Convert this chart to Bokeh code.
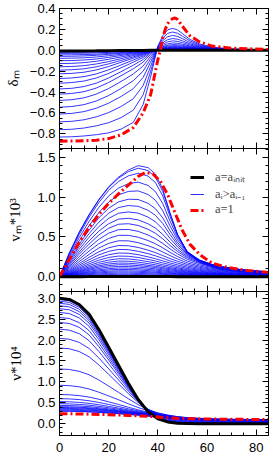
from bokeh.plotting import figure
from bokeh.layouts import column
from bokeh.models import (Range1d, LinearAxis, FixedTicker, CustomJSTickFormatter,
                          Legend, LegendItem)
from bokeh.embed import file_html
from bokeh.resources import INLINE

# ---------------- data ----------------
# panel 1 : density contrast delta_m
r_delta = [0, 5, 10, 15, 20, 25, 30, 34, 37, 40, 42, 44, 46, 48, 50, 53, 57, 62, 70, 85]
delta_init = [-0.006, -0.006, -0.0056, -0.005, -0.0041, -0.003, -0.0019, -0.0011, -0.0002, 0.0002,
              0.0004, 0.0005, 0.0006, 0.0006, 0.0005, 0.0004, 0.0003, 0.0002, 0.0001, 0.0]
delta_steps = [
    [-0.019, -0.019, -0.018, -0.016, -0.013, -0.01, -0.006, -0.003, -0.001, 0.001, 0.001, 0.002, 0.002, 0.002, 0.002, 0.001, 0.001, 0.0, 0.0, 0.0],
    [-0.030, -0.029, -0.028, -0.025, -0.020, -0.015, -0.010, -0.005, -0.001, 0.001, 0.002, 0.003, 0.003, 0.003, 0.003, 0.002, 0.001, 0.001, 0.0, 0.0],
    [-0.044, -0.043, -0.041, -0.037, -0.030, -0.022, -0.014, -0.008, -0.002, 0.001, 0.003, 0.004, 0.004, 0.004, 0.004, 0.003, 0.002, 0.001, 0.0, 0.0],
    [-0.058, -0.057, -0.054, -0.048, -0.039, -0.029, -0.019, -0.010, -0.002, 0.002, 0.003, 0.005, 0.006, 0.006, 0.005, 0.004, 0.003, 0.001, 0.001, 0.0],
    [-0.077, -0.075, -0.072, -0.064, -0.052, -0.039, -0.025, -0.014, -0.003, 0.002, 0.005, 0.007, 0.008, 0.008, 0.007, 0.005, 0.003, 0.002, 0.001, 0.0],
    [-0.100, -0.098, -0.093, -0.083, -0.068, -0.050, -0.032, -0.018, -0.004, 0.003, 0.006, 0.009, 0.010, 0.010, 0.009, 0.007, 0.005, 0.003, 0.001, 0.0],
    [-0.127, -0.125, -0.118, -0.105, -0.086, -0.064, -0.041, -0.023, -0.005, 0.004, 0.008, 0.011, 0.013, 0.013, 0.011, 0.009, 0.006, 0.003, 0.001, 0.0],
    [-0.158, -0.155, -0.147, -0.131, -0.108, -0.080, -0.051, -0.029, -0.007, 0.005, 0.010, 0.014, 0.016, 0.016, 0.014, 0.011, 0.007, 0.004, 0.002, 0.0],
    [-0.190, -0.186, -0.177, -0.158, -0.130, -0.097, -0.063, -0.036, -0.009, 0.006, 0.012, 0.017, 0.020, 0.020, 0.018, 0.014, 0.009, 0.005, 0.002, 0.0],
    [-0.225, -0.221, -0.210, -0.188, -0.155, -0.115, -0.075, -0.044, -0.011, 0.007, 0.014, 0.020, 0.024, 0.023, 0.021, 0.016, 0.010, 0.006, 0.002, 0.001],
    [-0.270, -0.265, -0.252, -0.226, -0.187, -0.141, -0.093, -0.055, -0.015, 0.008, 0.018, 0.025, 0.029, 0.029, 0.026, 0.020, 0.013, 0.007, 0.003, 0.001],
    [-0.315, -0.309, -0.294, -0.265, -0.221, -0.168, -0.114, -0.068, -0.020, 0.010, 0.022, 0.031, 0.035, 0.035, 0.031, 0.024, 0.015, 0.008, 0.003, 0.001],
    [-0.370, -0.364, -0.347, -0.314, -0.265, -0.205, -0.143, -0.088, -0.028, 0.012, 0.028, 0.039, 0.044, 0.044, 0.038, 0.029, 0.018, 0.010, 0.004, 0.001],
    [-0.420, -0.413, -0.396, -0.361, -0.308, -0.244, -0.177, -0.113, -0.040, 0.014, 0.034, 0.048, 0.055, 0.053, 0.047, 0.034, 0.021, 0.011, 0.005, 0.001],
    [-0.480, -0.473, -0.455, -0.419, -0.366, -0.299, -0.227, -0.151, -0.059, 0.017, 0.045, 0.062, 0.070, 0.067, 0.058, 0.042, 0.026, 0.014, 0.006, 0.001],
    [-0.545, -0.538, -0.520, -0.485, -0.433, -0.366, -0.291, -0.200, -0.084, 0.021, 0.058, 0.081, 0.090, 0.085, 0.073, 0.051, 0.031, 0.016, 0.007, 0.002],
    [-0.610, -0.604, -0.587, -0.554, -0.506, -0.443, -0.367, -0.260, -0.116, 0.024, 0.073, 0.102, 0.112, 0.106, 0.090, 0.062, 0.037, 0.019, 0.008, 0.002],
    [-0.685, -0.680, -0.665, -0.637, -0.596, -0.539, -0.464, -0.338, -0.158, 0.029, 0.093, 0.130, 0.142, 0.133, 0.111, 0.075, 0.044, 0.022, 0.009, 0.003],
    [-0.760, -0.756, -0.744, -0.723, -0.693, -0.645, -0.573, -0.426, -0.207, 0.034, 0.116, 0.162, 0.175, 0.163, 0.135, 0.090, 0.052, 0.026, 0.011, 0.004],
    [-0.830, -0.828, -0.820, -0.808, -0.790, -0.755, -0.690, -0.520, -0.260, 0.040, 0.140, 0.195, 0.210, 0.195, 0.160, 0.105, 0.060, 0.030, 0.012, 0.004],
]
r_delta_final = [0, 5, 10, 15, 20, 25, 30, 34, 37, 38, 39, 40, 41, 42, 43, 44, 45, 46, 47, 48, 50, 53, 57, 62, 70, 85]
delta_final = [-0.87, -0.869, -0.866, -0.86, -0.845, -0.81, -0.74, -0.6, -0.43, -0.32, -0.2, -0.09, 0.0,
               0.12, 0.2, 0.255, 0.285, 0.303, 0.31, 0.295, 0.23, 0.14, 0.08, 0.04, 0.02, 0.008]

# panel 2 : velocity v_m * 10^3
r_vel = [0, 4, 8, 12, 16, 20, 24, 28, 32, 36, 39, 42, 45, 48, 52, 57, 64, 74, 85]
vel_init = [0, 0.001, 0.0015, 0.002, 0.003, 0.0034, 0.0038, 0.004, 0.0038, 0.0034, 0.003, 0.0026,
            0.0021, 0.0017, 0.0013, 0.001, 0.0007, 0.0005, 0.0003]
vel_steps = [
    [0, 0.003, 0.006, 0.009, 0.012, 0.014, 0.015, 0.015, 0.014, 0.013, 0.011, 0.01, 0.009, 0.008, 0.006, 0.005, 0.003, 0.002, 0.002],
    [0, 0.006, 0.013, 0.019, 0.024, 0.028, 0.03, 0.03, 0.028, 0.025, 0.023, 0.02, 0.017, 0.015, 0.012, 0.009, 0.007, 0.005, 0.003],
    [0, 0.009, 0.019, 0.028, 0.036, 0.042, 0.045, 0.045, 0.042, 0.038, 0.034, 0.03, 0.026, 0.023, 0.018, 0.014, 0.01, 0.007, 0.005],
    [0, 0.013, 0.025, 0.037, 0.048, 0.056, 0.06, 0.059, 0.056, 0.05, 0.046, 0.04, 0.035, 0.03, 0.024, 0.019, 0.013, 0.009, 0.006],
    [0, 0.016, 0.032, 0.047, 0.06, 0.07, 0.075, 0.074, 0.07, 0.063, 0.057, 0.05, 0.044, 0.038, 0.03, 0.023, 0.017, 0.011, 0.008],
    [0, 0.019, 0.039, 0.057, 0.074, 0.086, 0.092, 0.091, 0.086, 0.077, 0.07, 0.062, 0.053, 0.046, 0.037, 0.029, 0.02, 0.014, 0.009],
    [0, 0.023, 0.046, 0.068, 0.088, 0.102, 0.11, 0.109, 0.102, 0.092, 0.084, 0.074, 0.064, 0.055, 0.044, 0.034, 0.024, 0.017, 0.011],
    [0, 0.027, 0.055, 0.081, 0.104, 0.121, 0.13, 0.129, 0.121, 0.109, 0.099, 0.087, 0.075, 0.065, 0.052, 0.04, 0.029, 0.02, 0.013],
    [0, 0.032, 0.063, 0.094, 0.121, 0.14, 0.151, 0.149, 0.14, 0.127, 0.115, 0.101, 0.088, 0.076, 0.06, 0.047, 0.033, 0.023, 0.015],
    [0, 0.036, 0.072, 0.107, 0.138, 0.16, 0.172, 0.17, 0.16, 0.144, 0.131, 0.115, 0.1, 0.086, 0.069, 0.053, 0.038, 0.026, 0.017],
    [0, 0.041, 0.083, 0.122, 0.158, 0.183, 0.197, 0.195, 0.183, 0.165, 0.15, 0.132, 0.114, 0.099, 0.079, 0.061, 0.043, 0.03, 0.02],
    [0, 0.047, 0.095, 0.14, 0.181, 0.21, 0.226, 0.224, 0.21, 0.19, 0.172, 0.151, 0.131, 0.113, 0.09, 0.07, 0.05, 0.034, 0.023],
    [0, 0.055, 0.109, 0.161, 0.208, 0.242, 0.26, 0.257, 0.242, 0.218, 0.198, 0.174, 0.151, 0.13, 0.104, 0.081, 0.057, 0.039, 0.026],
    [0, 0.063, 0.125, 0.185, 0.238, 0.277, 0.298, 0.295, 0.277, 0.25, 0.226, 0.2, 0.173, 0.149, 0.119, 0.092, 0.066, 0.045, 0.03],
    [0, 0.072, 0.144, 0.213, 0.274, 0.319, 0.343, 0.34, 0.32, 0.29, 0.263, 0.231, 0.199, 0.171, 0.136, 0.105, 0.075, 0.051, 0.034],
    [0, 0.083, 0.165, 0.243, 0.313, 0.364, 0.392, 0.389, 0.368, 0.334, 0.303, 0.266, 0.228, 0.195, 0.154, 0.119, 0.084, 0.057, 0.038],
    [0, 0.096, 0.191, 0.28, 0.361, 0.419, 0.452, 0.451, 0.428, 0.39, 0.355, 0.311, 0.265, 0.223, 0.174, 0.133, 0.094, 0.064, 0.043],
    [0, 0.111, 0.22, 0.322, 0.414, 0.481, 0.52, 0.52, 0.496, 0.455, 0.414, 0.363, 0.306, 0.254, 0.196, 0.149, 0.104, 0.071, 0.047],
    [0, 0.127, 0.251, 0.367, 0.47, 0.547, 0.591, 0.594, 0.57, 0.524, 0.478, 0.419, 0.349, 0.287, 0.219, 0.165, 0.115, 0.078, 0.052],
    [0, 0.143, 0.282, 0.409, 0.524, 0.609, 0.659, 0.666, 0.644, 0.596, 0.546, 0.476, 0.392, 0.317, 0.238, 0.177, 0.122, 0.082, 0.055],
    [0, 0.159, 0.31, 0.449, 0.573, 0.666, 0.723, 0.734, 0.714, 0.665, 0.611, 0.532, 0.433, 0.344, 0.253, 0.186, 0.127, 0.086, 0.057],
    [0, 0.177, 0.343, 0.495, 0.63, 0.733, 0.797, 0.814, 0.799, 0.749, 0.69, 0.599, 0.481, 0.375, 0.268, 0.195, 0.131, 0.088, 0.059],
    [0, 0.195, 0.376, 0.54, 0.685, 0.797, 0.869, 0.894, 0.884, 0.835, 0.772, 0.668, 0.528, 0.403, 0.282, 0.202, 0.134, 0.089, 0.06],
    [0, 0.213, 0.409, 0.585, 0.739, 0.86, 0.94, 0.973, 0.97, 0.922, 0.855, 0.739, 0.576, 0.431, 0.293, 0.205, 0.134, 0.089, 0.06],
    [0, 0.235, 0.45, 0.64, 0.806, 0.938, 1.028, 1.071, 1.078, 1.033, 0.961, 0.828, 0.635, 0.464, 0.305, 0.209, 0.133, 0.087, 0.059],
    [0, 0.258, 0.491, 0.693, 0.871, 1.014, 1.113, 1.169, 1.188, 1.146, 1.069, 0.919, 0.695, 0.495, 0.313, 0.209, 0.129, 0.084, 0.057],
    [0, 0.281, 0.53, 0.745, 0.932, 1.085, 1.196, 1.266, 1.3, 1.264, 1.183, 1.014, 0.754, 0.521, 0.316, 0.203, 0.121, 0.077, 0.052],
    [0, 0.294, 0.552, 0.772, 0.963, 1.121, 1.238, 1.319, 1.363, 1.333, 1.251, 1.07, 0.786, 0.533, 0.312, 0.195, 0.112, 0.071, 0.048],
    [0, 0.3, 0.56, 0.78, 0.97, 1.13, 1.25, 1.34, 1.395, 1.37, 1.29, 1.1, 0.8, 0.53, 0.3, 0.18, 0.1, 0.062, 0.042],
]
r_vel_final = [0, 4, 8, 12, 16, 20, 24, 28, 32, 35, 38, 41, 44, 47, 50, 53, 57, 62, 68, 76, 85]
vel_final = [0, 0.22, 0.43, 0.62, 0.78, 0.92, 1.04, 1.15, 1.26, 1.31, 1.29, 1.2, 1.03, 0.8, 0.58,
             0.41, 0.28, 0.17, 0.12, 0.08, 0.055]

# panel 3 : nu * 10^4
r_nu = [0, 4, 8, 12, 16, 20, 24, 28, 32, 36, 40, 44, 48, 52, 57, 63, 70, 78, 85]
nu_init = [3.0, 2.97, 2.85, 2.62, 2.25, 1.83, 1.4, 0.97, 0.58, 0.29, 0.12, 0.045, 0.015, 0.005,
           0.002, 0.0, 0.0, 0.0, 0.0]
nu_steps = [
    [2.97, 2.94, 2.82, 2.59, 2.23, 1.81, 1.39, 0.96, 0.57, 0.29, 0.12, 0.045, 0.015, 0.005, 0.002, 0, 0, 0, 0],
    [2.93, 2.9, 2.784, 2.559, 2.2, 1.791, 1.373, 0.953, 0.573, 0.292, 0.125, 0.05, 0.02, 0.01, 0.006, 0.004, 0.004, 0.004, 0.003],
    [2.88, 2.851, 2.737, 2.516, 2.164, 1.764, 1.354, 0.942, 0.57, 0.294, 0.13, 0.056, 0.026, 0.015, 0.011, 0.008, 0.007, 0.007, 0.006],
    [2.82, 2.792, 2.68, 2.466, 2.123, 1.734, 1.336, 0.934, 0.572, 0.303, 0.141, 0.067, 0.036, 0.024, 0.019, 0.015, 0.014, 0.013, 0.013],
    [2.75, 2.723, 2.614, 2.406, 2.075, 1.697, 1.312, 0.923, 0.571, 0.309, 0.151, 0.078, 0.046, 0.032, 0.027, 0.022, 0.021, 0.02, 0.019],
    [2.66, 2.633, 2.529, 2.329, 2.011, 1.648, 1.278, 0.904, 0.565, 0.313, 0.16, 0.087, 0.054, 0.04, 0.034, 0.029, 0.027, 0.025, 0.024],
    [2.54, 2.515, 2.416, 2.228, 1.928, 1.586, 1.237, 0.884, 0.564, 0.325, 0.178, 0.106, 0.071, 0.056, 0.047, 0.041, 0.038, 0.036, 0.034],
    [2.42, 2.396, 2.303, 2.126, 1.844, 1.523, 1.195, 0.862, 0.561, 0.334, 0.194, 0.122, 0.087, 0.069, 0.06, 0.052, 0.048, 0.045, 0.044],
    [2.26, 2.237, 2.152, 1.988, 1.729, 1.433, 1.131, 0.824, 0.546, 0.335, 0.203, 0.134, 0.098, 0.08, 0.069, 0.061, 0.057, 0.053, 0.051],
    [2.04, 2.02, 1.944, 1.8, 1.573, 1.313, 1.048, 0.778, 0.533, 0.344, 0.224, 0.158, 0.12, 0.1, 0.087, 0.077, 0.071, 0.067, 0.064],
    [1.81, 1.792, 1.726, 1.602, 1.406, 1.182, 0.954, 0.721, 0.508, 0.343, 0.235, 0.172, 0.134, 0.113, 0.099, 0.088, 0.081, 0.077, 0.073],
    [1.31, 1.297, 1.253, 1.172, 1.045, 0.9, 0.751, 0.598, 0.457, 0.342, 0.262, 0.206, 0.168, 0.144, 0.126, 0.113, 0.105, 0.099, 0.094],
    [0.92, 0.911, 0.883, 0.832, 0.755, 0.665, 0.574, 0.477, 0.388, 0.311, 0.253, 0.206, 0.171, 0.148, 0.13, 0.117, 0.108, 0.102, 0.097],
    [0.7, 0.693, 0.673, 0.638, 0.586, 0.524, 0.462, 0.395, 0.333, 0.276, 0.231, 0.191, 0.16, 0.138, 0.122, 0.11, 0.102, 0.095, 0.091],
    [0.6, 0.594, 0.578, 0.55, 0.509, 0.461, 0.412, 0.359, 0.309, 0.261, 0.222, 0.185, 0.155, 0.135, 0.119, 0.107, 0.099, 0.093, 0.089],
    [0.53, 0.525, 0.511, 0.488, 0.455, 0.415, 0.375, 0.33, 0.288, 0.247, 0.212, 0.178, 0.15, 0.13, 0.114, 0.103, 0.095, 0.09, 0.086],
    [0.48, 0.475, 0.463, 0.444, 0.416, 0.383, 0.349, 0.311, 0.275, 0.239, 0.206, 0.174, 0.147, 0.127, 0.112, 0.101, 0.094, 0.088, 0.084],
    [0.44, 0.436, 0.425, 0.409, 0.385, 0.356, 0.327, 0.294, 0.263, 0.23, 0.2, 0.169, 0.143, 0.124, 0.11, 0.099, 0.091, 0.086, 0.082],
    [0.41, 0.406, 0.397, 0.382, 0.361, 0.336, 0.31, 0.281, 0.253, 0.223, 0.195, 0.165, 0.139, 0.121, 0.107, 0.096, 0.089, 0.084, 0.08],
    [0.39, 0.386, 0.378, 0.364, 0.345, 0.322, 0.299, 0.272, 0.246, 0.218, 0.191, 0.162, 0.137, 0.119, 0.105, 0.095, 0.088, 0.082, 0.079],
    [0.37, 0.366, 0.358, 0.346, 0.329, 0.308, 0.287, 0.263, 0.239, 0.212, 0.187, 0.159, 0.134, 0.117, 0.103, 0.093, 0.086, 0.081, 0.077],
    [0.35, 0.347, 0.339, 0.328, 0.312, 0.293, 0.274, 0.252, 0.229, 0.205, 0.18, 0.153, 0.13, 0.113, 0.1, 0.09, 0.083, 0.078, 0.075],
    [0.33, 0.327, 0.32, 0.31, 0.296, 0.278, 0.261, 0.24, 0.22, 0.196, 0.173, 0.147, 0.125, 0.109, 0.096, 0.086, 0.08, 0.075, 0.072],
    [0.31, 0.307, 0.301, 0.291, 0.279, 0.263, 0.247, 0.228, 0.209, 0.188, 0.166, 0.141, 0.12, 0.104, 0.092, 0.083, 0.077, 0.072, 0.069],
    [0.3, 0.297, 0.291, 0.282, 0.27, 0.255, 0.24, 0.222, 0.204, 0.183, 0.162, 0.138, 0.117, 0.102, 0.09, 0.081, 0.075, 0.071, 0.068],
]
nu_final = [0.24, 0.238, 0.235, 0.23, 0.224, 0.217, 0.209, 0.2, 0.19, 0.178, 0.163, 0.145, 0.13,
            0.122, 0.117, 0.112, 0.108, 0.104, 0.1]

x_major_ticks = [0, 20, 40, 60, 80]
legend_labels = ["a=a\u1d62\u2099\u1d62\u209c", "a\u1d62>a\u1d62\u208b\u2081", "a=1"]
y_titles = ["\u03b4\u2098", "v\u2098*10\u00b3", "\u03bd*10\u2074"]

# ---------------- styling ----------------
BLUE = "#0000ff"
RED = "#ff0000"
DASHDOT = "8 3 2 3"
TICK_FONT = "Liberation Sans"
TITLE_FONT = "Liberation Serif"

x_range = Range1d(0, 85)
x_minor_ticks = [5 * i for i in range(18)]


def y_formatter():
    return CustomJSTickFormatter(code="""
        if (Math.abs(tick) < 1e-9) { return '0.0'; }
        return (tick < 0 ? '\\u2212' : '') + Math.abs(tick).toFixed(1);
    """)


def style_axis(ax, labels, standoff=4):
    ax.axis_line_color = "black"
    ax.axis_line_width = 1
    ax.major_tick_in = 6
    ax.major_tick_out = 0
    ax.minor_tick_in = 3
    ax.minor_tick_out = 0
    ax.major_tick_line_color = "black"
    ax.minor_tick_line_color = "black"
    if labels:
        ax.major_label_text_font = TICK_FONT
        ax.major_label_text_font_size = "13px"
        ax.major_label_text_color = "black"
        ax.major_label_standoff = standoff
    else:
        ax.major_label_text_font_size = "0px"
        ax.major_label_text_color = None
        ax.major_label_standoff = 0


def make_panel(height, y0, y1, ymaj, ymin, top, bottom, xlabels, title, title_standoff):
    p = figure(width=270, height=height, x_range=x_range, y_range=Range1d(y0, y1),
               output_backend="svg", toolbar_location=None, tools="",
               min_border_left=59, min_border_right=2,
               min_border_top=top, min_border_bottom=bottom)
    p.grid.visible = False
    p.outline_line_color = None
    xt = FixedTicker(ticks=x_major_ticks, minor_ticks=x_minor_ticks)
    yt = FixedTicker(ticks=ymaj, minor_ticks=ymin)
    p.xaxis.ticker = xt
    p.yaxis.ticker = yt
    p.xaxis.formatter = CustomJSTickFormatter(code="return tick.toFixed(0);")
    p.yaxis.formatter = y_formatter()
    style_axis(p.xaxis[0], xlabels, 7)
    style_axis(p.yaxis[0], True, 4)
    ya = p.yaxis[0]
    ya.axis_label = title
    ya.axis_label_text_font = TITLE_FONT
    ya.axis_label_text_font_size = "15px"
    ya.axis_label_text_font_style = "normal"
    ya.axis_label_text_color = "black"
    ya.axis_label_standoff = title_standoff
    top_ax = LinearAxis(ticker=xt)
    right_ax = LinearAxis(ticker=yt)
    style_axis(top_ax, False)
    style_axis(right_ax, False)
    p.add_layout(top_ax, "above")
    p.add_layout(right_ax, "right")
    return p


def ticks(start, step, n):
    return [round(start + step * i, 3) for i in range(n)]


# panel 1
p1 = make_panel(148, -0.94, 0.4, ticks(-0.8, 0.2, 7), ticks(-0.9, 0.05, 27), 8, 0, False,
                y_titles[0], 6)
for ys in delta_steps:
    p1.line(r_delta, ys, line_color=BLUE, line_width=1, line_alpha=0.8)
p1.line(r_delta, delta_init, line_color="black", line_width=3)
p1.line(r_delta_final, delta_final, line_color=RED, line_width=3, line_dash=DASHDOT)

# panel 2
p2 = make_panel(143, -0.185, 1.61, ticks(0.0, 0.5, 4), ticks(-0.1, 0.1, 18), 0, 0, False,
                y_titles[1], 11)
blue_r = None
for ys in vel_steps:
    blue_r = p2.line(r_vel, ys, line_color=BLUE, line_width=1, line_alpha=0.8)
black_r = p2.line(r_vel, vel_init, line_color="black", line_width=3)
red_r = p2.line(r_vel_final, vel_final, line_color=RED, line_width=3, line_dash=DASHDOT)
legend = Legend(items=[LegendItem(label=legend_labels[0], renderers=[black_r]),
                       LegendItem(label=legend_labels[1], renderers=[blue_r]),
                       LegendItem(label=legend_labels[2], renderers=[red_r])],
                location=(131, 74), orientation="vertical",
                border_line_alpha=0, background_fill_alpha=0,
                padding=0, margin=0, spacing=0,
                glyph_width=14, glyph_height=14, label_height=14, label_standoff=11,
                label_text_font=TITLE_FONT, label_text_font_size="12.5px")
p2.add_layout(legend)

# panel 3
p3 = make_panel(172, -0.28, 3.16, ticks(0.0, 0.5, 7), ticks(-0.2, 0.1, 34), 0, 28, True,
                y_titles[2], 10)
for ys in nu_steps:
    p3.line(r_nu, ys, line_color=BLUE, line_width=1, line_alpha=0.8)
p3.line(r_nu, nu_init, line_color="black", line_width=3)
p3.line(r_nu, nu_final, line_color=RED, line_width=3, line_dash=DASHDOT)

layout = column(p1, p2, p3, spacing=0)
open("out.html", "w").write(file_html(layout, INLINE))
